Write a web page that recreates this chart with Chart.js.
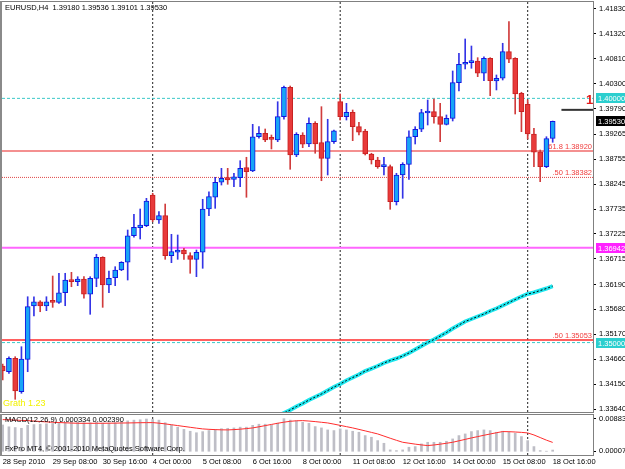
<!DOCTYPE html>
<html><head><meta charset="utf-8">
<script src="https://cdn.jsdelivr.net/npm/chart.js@4.4.1/dist/chart.umd.min.js"></script>
<style>
html,body{margin:0;padding:0;background:#fff}
body{width:625px;height:469px;overflow:hidden;position:relative}
canvas{position:absolute;left:0}
#c1{top:0}
#c2{top:413px}
.t{position:absolute;font-family:"Liberation Sans",Arial,sans-serif;font-size:7.5px;line-height:10px;white-space:pre;color:#000}
</style></head><body>
<canvas id="c1" width="625" height="413"></canvas>
<canvas id="c2" width="625" height="56"></canvas>
<div class="t" style="left:5px;top:3px">EURUSD,H4  1.39180 1.39536 1.39101 1.39530</div>
<div class="t" style="left:3px;top:398px;color:#F2F200;font-size:9px">Grath 1.23</div>
<div class="t" style="left:586px;top:93px;color:#E41B1B;font-size:13px;font-weight:bold;line-height:14px">1</div>
<div class="t" style="left:5px;top:415px">MACD(12,26,9) 0.000334 0.002390</div>
<div class="t" style="left:5px;top:444px">FxPro MT4, © 2001-2010 MetaQuotes Software Corp.</div>
<script>
// ---------- DATA ----------
const open = [1.34520,1.34404,1.34678,1.33994,1.34658,1.35749,1.35837,1.35749,1.35851,1.35825,
1.36021,1.36281,1.36247,1.36302,1.35989,1.36316,1.36746,1.36179,1.36328,1.36486,
1.36644,1.37188,1.37352,1.37393,1.38022,1.37510,1.37598,1.36779,1.36849,1.36896,
1.36779,1.36705,1.36849,1.37735,1.37975,1.38282,1.38376,1.38343,1.38376,1.38581,
1.38513,1.39215,1.39285,1.39183,1.39148,1.39625,1.40227,1.38841,1.39250,1.39066,
1.39490,1.39093,1.38773,1.39113,1.39932,1.39625,1.39715,1.39420,1.39332,1.38861,
1.38738,1.38601,1.38601,1.37885,1.38431,1.38650,1.39215,1.39367,1.39701,1.39727,
1.39625,1.39469,1.39592,1.40321,1.40698,1.40731,1.40765,1.40514,1.40821,1.40356,
1.40411,1.40956,1.40821,1.40104,1.39879,1.39271,1.38908,1.38601,1.39180];
const high = [1.34561,1.34711,1.34711,1.34916,1.35939,1.35939,1.35858,1.35939,1.36363,1.36419,
1.36419,1.36439,1.36349,1.36349,1.36349,1.36808,1.36758,1.36466,1.36554,1.36656,
1.37305,1.37627,1.37735,1.37954,1.38057,1.37680,1.37837,1.37217,1.37203,1.36930,
1.36840,1.36896,1.37934,1.38089,1.38384,1.38568,1.38568,1.38466,1.38724,1.38794,
1.39469,1.39420,1.39373,1.39250,1.39932,1.40253,1.40253,1.39297,1.39297,1.39604,
1.39523,1.39830,1.39572,1.39353,1.40090,1.39899,1.39762,1.39510,1.39367,1.38876,
1.38794,1.38794,1.38636,1.38466,1.38683,1.39338,1.39420,1.39776,1.39967,1.39987,
1.39899,1.39660,1.40561,1.40923,1.41216,1.41072,1.40833,1.40853,1.40833,1.40479,
1.41128,1.41570,1.40833,1.40125,1.39967,1.39387,1.38943,1.39215,1.39536];
const low = [1.34234,1.34371,1.33839,1.33962,1.34404,1.35544,1.35632,1.35653,1.35722,1.35804,
1.35755,1.36144,1.36165,1.35907,1.35579,1.36144,1.35722,1.36021,1.36165,1.36472,
1.36281,1.37156,1.37121,1.37373,1.37475,1.37442,1.36705,1.36636,1.36705,1.36705,
1.36419,1.36349,1.36521,1.37598,1.37749,1.38226,1.38241,1.38192,1.38192,1.37975,
1.38499,1.39183,1.39113,1.38964,1.39113,1.39572,1.38548,1.38806,1.38990,1.39011,
1.38876,1.38314,1.38431,1.39080,1.39557,1.39557,1.39134,1.39250,1.38841,1.38656,
1.38568,1.38431,1.37729,1.37817,1.37954,1.38343,1.39066,1.39318,1.39455,1.39490,
1.39113,1.39455,1.39537,1.40151,1.40602,1.40616,1.40444,1.40362,1.40055,1.40172,
1.40376,1.40731,1.39680,1.39318,1.39168,1.38601,1.38294,1.38581,1.39101];
const close = [1.34418,1.34678,1.34009,1.34664,1.35735,1.35837,1.35749,1.35837,1.35825,1.36021,
1.36281,1.36247,1.36302,1.35989,1.36316,1.36746,1.36179,1.36316,1.36486,1.36644,
1.37188,1.37360,1.37407,1.37899,1.37510,1.37598,1.36779,1.36861,1.36896,1.36814,
1.36705,1.36849,1.37735,1.37987,1.38282,1.38364,1.38329,1.38396,1.38568,1.38499,
1.39215,1.39285,1.39148,1.39162,1.39625,1.40227,1.38841,1.39265,1.39060,1.39490,
1.39066,1.38773,1.39113,1.39338,1.39625,1.39715,1.39420,1.39306,1.38861,1.38738,
1.38601,1.38636,1.37885,1.38431,1.38650,1.39215,1.39367,1.39707,1.39727,1.39625,
1.39469,1.39592,1.40321,1.40698,1.40731,1.40772,1.40514,1.40821,1.40362,1.40411,
1.40956,1.40800,1.40090,1.39727,1.39271,1.38896,1.38601,1.39175,1.39530];

// long moving average (first value belongs to bar maFirstBar)
const maFirstBar = 44;
const maValues = [1.33497,1.33558,1.33620,1.33691,1.33753,1.33824,1.33886,1.33947,1.34019,1.34090,
1.34152,1.34224,1.34285,1.34346,1.34418,1.34469,1.34520,1.34582,1.34633,1.34674,
1.34725,1.34787,1.34858,1.34930,1.35002,1.35063,1.35135,1.35206,1.35288,1.35360,
1.35432,1.35483,1.35534,1.35585,1.35647,1.35698,1.35759,1.35821,1.35882,1.35943,
1.35995,1.36025,1.36066,1.36107,1.36158];

const macdHist = [0.0071,0.0066,0.0064,0.0062,0.0070,0.0072,0.0073,0.0074,0.0075,0.0076,
0.0078,0.0079,0.0079,0.0077,0.0077,0.0079,0.0076,0.0076,0.0077,0.0079,
0.0082,0.0084,0.0085,0.0087,0.0086,0.0084,0.0077,0.0071,0.0065,0.0059,
0.0054,0.0050,0.0053,0.0056,0.0059,0.0061,0.0062,0.0063,0.0065,0.0065,
0.0070,0.0073,0.0073,0.0071,0.0076,0.0088,0.0084,0.0082,
0.00782,0.00755,0.00666,0.00630,0.00576,0.00558,0.00603,0.00576,0.00540,0.00513,
0.00423,0.00378,0.00288,0.00216,0.00037,0.00019,0.00037,0.00109,0.00127,0.00199,
0.00243,0.00243,0.00243,0.00270,0.00333,0.00423,0.00468,0.00531,0.00558,0.00576,
0.00558,0.00513,0.00540,0.00513,0.00486,0.00396,0.00288,0.00127,0.00019,0.00003,0.000334];
const macdSignal = [0.00854,0.00848,0.00840,0.00833,0.00827,0.00815,0.00803,0.00792,
0.00782,0.00775,0.00768,0.00761,0.00755,0.00754,0.00754,0.00755,
0.00755,0.00757,0.00759,0.00762,0.00764,0.00767,0.00770,0.00772,
0.00773,0.00758,0.00738,0.00716,0.00693,0.00670,0.00647,0.00624,
0.00603,0.00592,0.00584,0.00578,0.00576,0.00584,0.00596,0.00612,
0.00630,0.00660,0.00692,0.00724,0.00755,0.00785,0.00808,0.00822,
0.00827,0.00815,0.00800,0.00782,0.00764,0.00732,0.00698,0.00664,
0.00630,0.00590,0.00550,0.00509,0.00468,0.00410,0.00352,0.00296,
0.00243,0.00218,0.00193,0.00172,0.00154,0.00170,0.00192,0.00216,
0.00243,0.00282,0.00321,0.00360,0.00396,0.00432,0.00466,0.00500,
0.00531,0.00528,0.00520,0.00510,0.00495,0.00440,0.00370,0.00300,0.00239];

const yTickValues = [1.41830,1.41320,1.40810,1.40300,1.39790,1.39265,1.38755,1.38245,1.37735,1.37225,1.36715,1.36190,1.35680,1.35170,1.34660,1.34150,1.33640];
const macdTickValues = [0.008835, 0.000077];
const timeBars = [0,8,16,24,32,40,48,56,64,72,80,88];
const timeLabels = ['28 Sep 2010','29 Sep 08:00','30 Sep 16:00','4 Oct 00:00','5 Oct 08:00','6 Oct 16:00','8 Oct 00:00','11 Oct 08:00','12 Oct 16:00','14 Oct 00:00','15 Oct 08:00','18 Oct 16:00'];
const weekStarts = [24,54,84];

const levelValues = [1.40000,1.38920,1.38382,1.36942,1.35053,1.35000];
const levelTexts  = ['','61.8 1.38920','.50 1.38382','','.50 1.35053',''];
const axisBoxValues = [1.40000,1.39530,1.36942,1.35000];
const markerLevel = 1.39765, markerFromBar = 89.4;

// ---------- RANGES / STYLES ----------
const priceMin = 1.33579, priceMax = 1.41973;
const macdMin = -0.0010, macdMax = 0.00978;
const xMin = -0.11, xMax = 94.45;
const levelStyles = [
  {color:'#3CC8C8', width:1, dash:[3,2]},
  {color:'#F49090', width:2, dash:[]},
  {color:'#E04848', width:1, dash:[1,1]},
  {color:'#FF66FF', width:2, dash:[]},
  {color:'#FF2A2A', width:1.5, dash:[]},
  {color:'#3CC8C8', width:1, dash:[3,2]}
];
const boxColors = ['#2CCFCF','#000000','#FF22FF','#2CCFCF'];
const FONT = {family:'"Liberation Sans", Arial, sans-serif', size:7.5};
const bars = open.map((_, i) => i);
const isBull = i => close[i] >= open[i];

function zeroPad(s){ s.paddingTop=0; s.paddingBottom=0; s.paddingLeft=0; s.paddingRight=0; }

const framePlugin = {
  id:'frame',
  afterDraw(chart){
    const a = chart.chartArea, ctx = chart.ctx;
    ctx.save();
    ctx.strokeStyle = '#808080'; ctx.lineWidth = 1;
    ctx.strokeRect(a.left-0.5, a.top-0.5, a.right-a.left+1, a.bottom-a.top+1);
    ctx.fillStyle = '#8a8a8a';
    ctx.fillRect(0, a.top-1, 2, a.bottom-a.top+2);
    ctx.restore();
  }
};

const labelPlugin = {
  id:'levelLabels',
  afterDraw(chart){
    const y = chart.scales.y, a = chart.chartArea, ctx = chart.ctx;
    ctx.save();
    ctx.font = '7.5px "Liberation Sans", Arial, sans-serif';
    ctx.textBaseline = 'middle';
    ctx.textAlign = 'right';
    ctx.fillStyle = '#F03C3C';
    levelValues.forEach((v,k) => {
      if (!levelTexts[k]) return;
      ctx.fillText(levelTexts[k], a.right-1, y.getPixelForValue(v)-4.5);
    });
    ctx.textAlign = 'left';
    axisBoxValues.forEach((v,k) => {
      const py = Math.round(y.getPixelForValue(v));
      ctx.fillStyle = boxColors[k];
      ctx.fillRect(a.right+3, py-5, 625-a.right-3, 10);
      ctx.fillStyle = '#ffffff';
      ctx.fillText(v.toFixed(5), a.right+5, py+0.5);
    });
    ctx.restore();
  }
};

const common = {responsive:false, animation:false, events:[], plugins:{legend:{display:false}, tooltip:{enabled:false}}};

// ---------- MAIN CHART ----------
const levelDatasets = levelValues.map((v,k) => ({
  type:'line', data:[{x:xMin,y:v},{x:xMax,y:v}], borderColor:levelStyles[k].color,
  borderWidth:levelStyles[k].width, borderDash:levelStyles[k].dash, pointRadius:0, order:6
}));
const sepDatasets = weekStarts.map(b => ({
  type:'line', data:[{x:b,y:priceMin},{x:b,y:priceMax}], borderColor:'#222', borderWidth:1,
  borderDash:[2,2], pointRadius:0, order:7
}));
const maData = maValues.map((v,k) => ({x:maFirstBar+k, y:v}));

new Chart(document.getElementById('c1'), {
  type:'bar',
  data:{datasets:[
    {type:'bar', data:bars.map(i=>({x:i,y:[open[i],close[i]]})), grouped:false, barThickness:5, minBarLength:2,
     borderSkipped:false, borderWidth:1,
     backgroundColor:c=>isBull(c.dataIndex)?'#17A5F6':'#E83A3A',
     borderColor:c=>isBull(c.dataIndex)?'#1414E0':'#C82222', order:0},
    {type:'bar', data:bars.map(i=>({x:i,y:[low[i],high[i]]})), grouped:false, barThickness:1, borderWidth:0,
     backgroundColor:c=>isBull(c.dataIndex)?'#3434E6':'#D03C3C', order:1},
    {type:'line', data:[{x:markerFromBar,y:markerLevel},{x:xMax,y:markerLevel}], borderColor:'#333', borderWidth:2, pointRadius:0, order:0},
    {type:'line', data:maData, borderColor:'#000', borderWidth:1, borderDash:[2,2], pointRadius:0, order:2},
    {type:'line', data:maData, borderColor:'#1EE6EE', borderWidth:4, pointRadius:0, order:3},
    ...levelDatasets, ...sepDatasets
  ]},
  options:{...common,
    layout:{padding:{left:2,top:2,right:0,bottom:1}},
    scales:{
      x:{type:'linear', display:false, min:xMin, max:xMax, offset:false},
      y:{type:'linear', position:'right', min:priceMin, max:priceMax, beginAtZero:false,
         grid:{drawOnChartArea:false, drawTicks:true, tickLength:3, color:'#000'},
         border:{display:false},
         ticks:{padding:3, font:FONT, color:'#000', autoSkip:false, callback:v=>v.toFixed(5)},
         afterBuildTicks:s=>{s.ticks = yTickValues.map(v=>({value:v}));},
         afterFit:s=>{s.width=32; zeroPad(s);}}
    }
  },
  plugins:[framePlugin, labelPlugin]
});

// ---------- MACD CHART ----------
new Chart(document.getElementById('c2'), {
  type:'bar',
  data:{datasets:[
    {type:'line', data:bars.map(i=>({x:i,y:macdSignal[i]})), borderColor:'#FF2C2C', borderWidth:1, pointRadius:0, order:0},
    {type:'bar', data:bars.map(i=>({x:i,y:macdHist[i]})), grouped:false, barThickness:2, backgroundColor:'#BEBEC6', order:1},
    ...weekStarts.map(b => ({type:'line', data:[{x:b,y:macdMin},{x:b,y:macdMax}], borderColor:'#222', borderWidth:1, borderDash:[2,2], pointRadius:0, order:2}))
  ]},
  options:{...common,
    layout:{padding:{left:2,top:2,right:0,bottom:0}},
    scales:{
      x:{type:'linear', min:xMin, max:xMax, offset:false,
         grid:{display:false, drawTicks:false, tickLength:0}, border:{display:false},
         ticks:{autoSkip:false, maxRotation:0, minRotation:0, align:'start', padding:2, font:FONT, color:'#000',
                callback:v=>{const k=timeBars.indexOf(v); return k>=0?timeLabels[k]:'';}},
         afterBuildTicks:s=>{s.ticks = timeBars.map(v=>({value:v}));},
         afterFit:s=>{s.height=14; zeroPad(s);}},
      y:{type:'linear', position:'right', min:macdMin, max:macdMax, beginAtZero:false,
         grid:{drawOnChartArea:false, drawTicks:true, tickLength:3, color:'#000'}, border:{display:false},
         ticks:{padding:3, font:FONT, color:'#000', autoSkip:false, callback:v=>v.toFixed(6)},
         afterBuildTicks:s=>{s.ticks = macdTickValues.map(v=>({value:v}));},
         afterFit:s=>{s.width=32; zeroPad(s);}}
    }
  },
  plugins:[framePlugin]
});
</script>
</body></html>
